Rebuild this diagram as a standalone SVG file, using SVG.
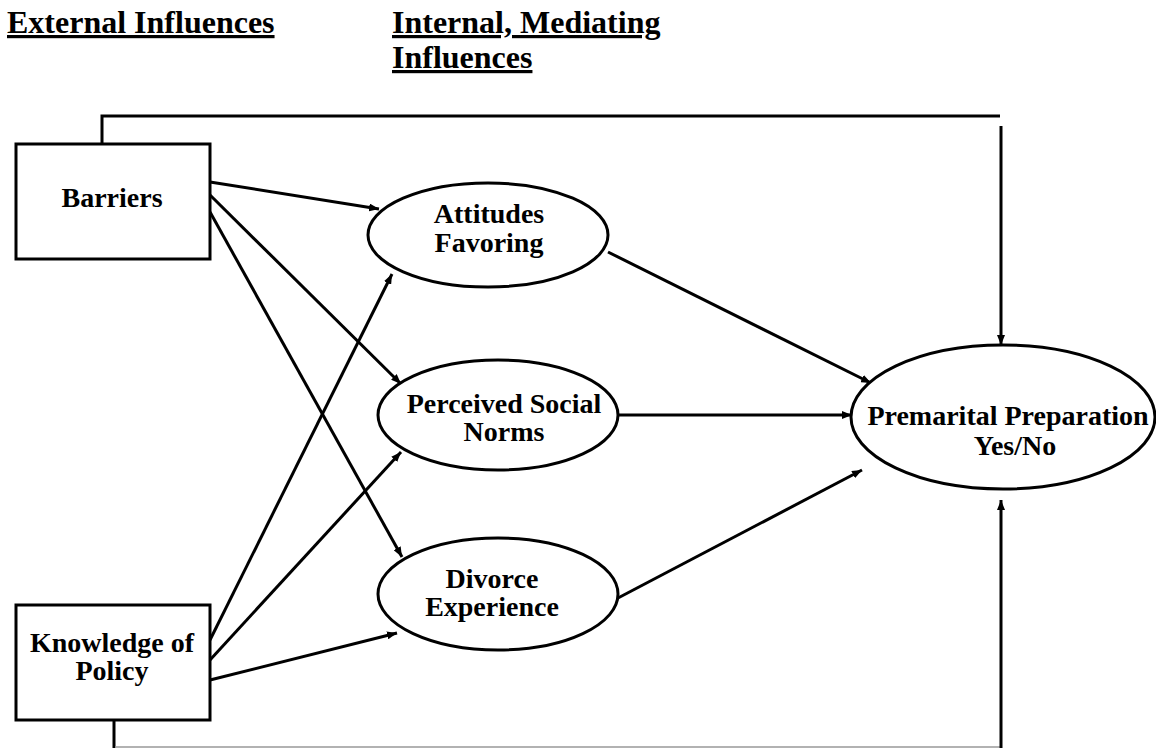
<svg xmlns="http://www.w3.org/2000/svg" width="1156" height="748" viewBox="0 0 1156 748">
<style>
.t{font-family:"Liberation Serif","Times New Roman",serif;font-weight:bold;fill:#000}
.n{font-size:28px;text-anchor:middle}
.h{font-size:32px;text-decoration:underline}
.box{fill:#fff;stroke:#000;stroke-width:3}
.c{fill:none;stroke:#000;stroke-width:3}
</style>
<defs>
<marker id="a" viewBox="0 0 10 8" refX="10" refY="4" markerWidth="10" markerHeight="8" markerUnits="userSpaceOnUse" orient="auto">
<path d="M0,0 L10,4 L0,8 z" fill="#000"/>
</marker>
</defs>
<g id="headers">
<text class="t h" x="7" y="33">External Influences</text>
<text class="t h" x="392" y="33">Internal, Mediating</text>
<text class="t h" x="392" y="68">Influences</text>
</g>
<g id="connectors">
<polyline class="c" points="102,144 102,116 1000,116"/>
<line class="c" x1="1001" y1="126" x2="1001" y2="345" marker-end="url(#a)"/>
<line x1="114" y1="720" x2="114" y2="748" stroke="#000" stroke-width="3"/>
<line x1="115" y1="747" x2="1000" y2="747" stroke="#999" stroke-width="1.5"/>
<line class="c" x1="1001" y1="748" x2="1001" y2="500" marker-end="url(#a)"/>
<line class="c" x1="210" y1="182" x2="379" y2="209" marker-end="url(#a)"/>
<line class="c" x1="210" y1="195" x2="401" y2="384" marker-end="url(#a)"/>
<line class="c" x1="210" y1="212" x2="402" y2="557" marker-end="url(#a)"/>
<line class="c" x1="210" y1="640" x2="392" y2="274" marker-end="url(#a)"/>
<line class="c" x1="210" y1="660" x2="401" y2="452" marker-end="url(#a)"/>
<line class="c" x1="210" y1="680" x2="397" y2="633" marker-end="url(#a)"/>
<line class="c" x1="608" y1="252" x2="871" y2="383" marker-end="url(#a)"/>
<line class="c" x1="618" y1="415" x2="852" y2="415" marker-end="url(#a)"/>
<line class="c" x1="618" y1="598" x2="862" y2="470" marker-end="url(#a)"/>
</g>
<g id="barriers">
<rect class="box" x="16" y="144" width="194" height="115"/>
<text class="t n" x="112" y="207">Barriers</text>
</g>
<g id="knowledge">
<rect class="box" x="16" y="605" width="194" height="115"/>
<text class="t n" x="112" y="652">Knowledge of</text>
<text class="t n" x="112" y="680">Policy</text>
</g>
<g id="attitudes">
<ellipse class="box" cx="488" cy="235" rx="120" ry="52"/>
<text class="t n" x="489" y="223">Attitudes</text>
<text class="t n" x="489" y="252">Favoring</text>
</g>
<g id="norms">
<ellipse class="box" cx="498" cy="415" rx="120" ry="55"/>
<text class="t n" x="504" y="413">Perceived Social</text>
<text class="t n" x="504" y="441">Norms</text>
</g>
<g id="divorce">
<ellipse class="box" cx="498" cy="594" rx="120" ry="56"/>
<text class="t n" x="492" y="588">Divorce</text>
<text class="t n" x="492" y="616">Experience</text>
</g>
<g id="premarital">
<ellipse class="box" cx="1003" cy="417" rx="152" ry="72"/>
<text class="t n" x="1008" y="425">Premarital Preparation</text>
<text class="t n" x="1015" y="455">Yes/No</text>
</g>
</svg>
